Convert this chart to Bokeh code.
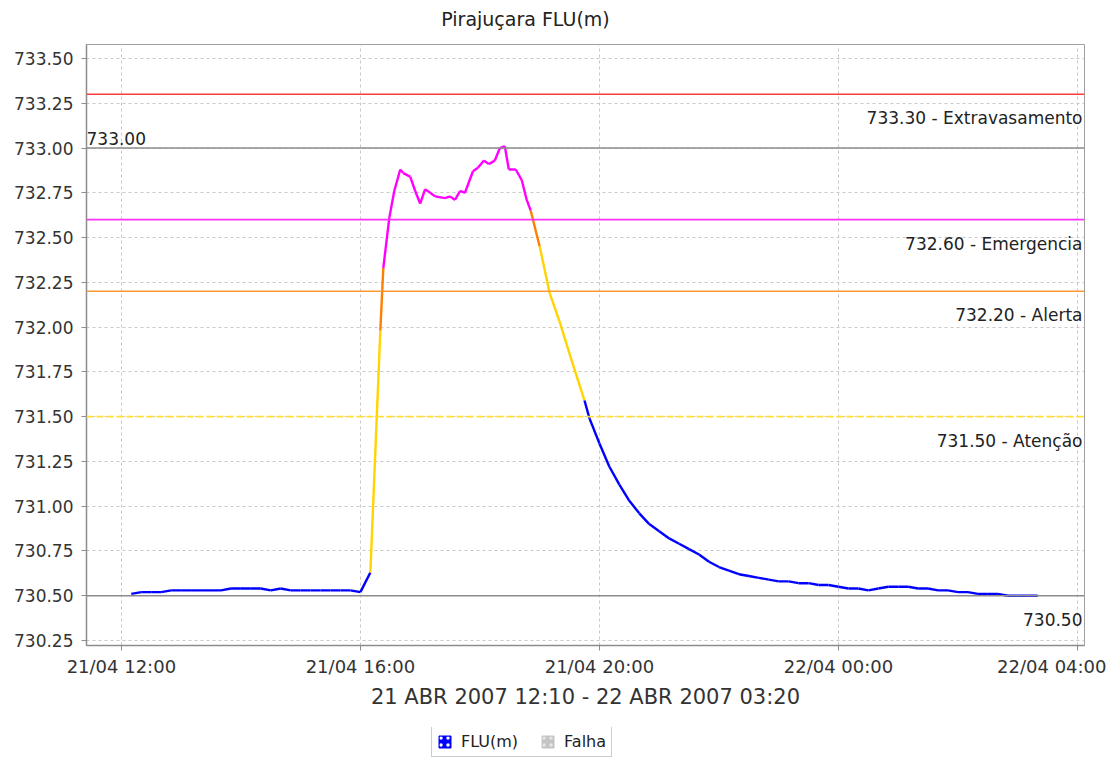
from datetime import datetime
from bokeh.plotting import figure
from bokeh.layouts import column
from bokeh.models import (Span, Label, Legend, LegendItem, FixedTicker,
                          DatetimeTickFormatter, ColumnDataSource, Range1d,
                          PrintfTickFormatter)
from bokeh.embed import file_html
from bokeh.resources import INLINE

# ---------------- data ----------------
title_text = "Pirajuçara FLU(m)"
x_axis_label = "21 ABR 2007 12:10 - 22 ABR 2007 03:20"

times = [
    "2007-04-21 12:10", "2007-04-21 12:20", "2007-04-21 12:30", "2007-04-21 12:40",
    "2007-04-21 12:50", "2007-04-21 13:00", "2007-04-21 13:10", "2007-04-21 13:20",
    "2007-04-21 13:30", "2007-04-21 13:40", "2007-04-21 13:50", "2007-04-21 14:00",
    "2007-04-21 14:10", "2007-04-21 14:20", "2007-04-21 14:30", "2007-04-21 14:40",
    "2007-04-21 14:50", "2007-04-21 15:00", "2007-04-21 15:10", "2007-04-21 15:20",
    "2007-04-21 15:30", "2007-04-21 15:40", "2007-04-21 15:50", "2007-04-21 16:00",
    "2007-04-21 16:10", "2007-04-21 16:20", "2007-04-21 16:23", "2007-04-21 16:29",
    "2007-04-21 16:34", "2007-04-21 16:40", "2007-04-21 16:43", "2007-04-21 16:50",
    "2007-04-21 16:55", "2007-04-21 17:00", "2007-04-21 17:05", "2007-04-21 17:10",
    "2007-04-21 17:15", "2007-04-21 17:25", "2007-04-21 17:30", "2007-04-21 17:35",
    "2007-04-21 17:40", "2007-04-21 17:45", "2007-04-21 17:53", "2007-04-21 17:58",
    "2007-04-21 18:04", "2007-04-21 18:09", "2007-04-21 18:15", "2007-04-21 18:20",
    "2007-04-21 18:25", "2007-04-21 18:29", "2007-04-21 18:36", "2007-04-21 18:42",
    "2007-04-21 18:47", "2007-04-21 18:51", "2007-04-21 19:00", "2007-04-21 19:10",
    "2007-04-21 19:20", "2007-04-21 19:30", "2007-04-21 19:45", "2007-04-21 19:50",
    "2007-04-21 20:00", "2007-04-21 20:10", "2007-04-21 20:20", "2007-04-21 20:30",
    "2007-04-21 20:40", "2007-04-21 20:50", "2007-04-21 21:00", "2007-04-21 21:10",
    "2007-04-21 21:20", "2007-04-21 21:30", "2007-04-21 21:40", "2007-04-21 21:50",
    "2007-04-21 22:00", "2007-04-21 22:10", "2007-04-21 22:20", "2007-04-21 22:30",
    "2007-04-21 22:40", "2007-04-21 22:50", "2007-04-21 23:00", "2007-04-21 23:10",
    "2007-04-21 23:20", "2007-04-21 23:30", "2007-04-21 23:40", "2007-04-21 23:50",
    "2007-04-22 00:00", "2007-04-22 00:10", "2007-04-22 00:20", "2007-04-22 00:30",
    "2007-04-22 00:40", "2007-04-22 00:50", "2007-04-22 01:00", "2007-04-22 01:10",
    "2007-04-22 01:20", "2007-04-22 01:30", "2007-04-22 01:40", "2007-04-22 01:50",
    "2007-04-22 02:00", "2007-04-22 02:10", "2007-04-22 02:20", "2007-04-22 02:30",
    "2007-04-22 02:40", "2007-04-22 02:50", "2007-04-22 03:00", "2007-04-22 03:10",
    "2007-04-22 03:20",
]
levels = [
    730.51, 730.52, 730.52, 730.52,
    730.53, 730.53, 730.53, 730.53,
    730.53, 730.53, 730.54, 730.54,
    730.54, 730.54, 730.53, 730.54,
    730.53, 730.53, 730.53, 730.53,
    730.53, 730.53, 730.53, 730.52,
    730.63, 731.98, 732.33, 732.61,
    732.76, 732.88, 732.86, 732.84,
    732.76, 732.69, 732.77, 732.75,
    732.73, 732.72, 732.73, 732.71,
    732.76, 732.75, 732.87, 732.89,
    732.93, 732.91, 732.93, 733.00,
    733.01, 732.88, 732.88, 732.82,
    732.71, 732.65, 732.45, 732.19,
    732.03, 731.85, 731.59, 731.49,
    731.35, 731.22, 731.12, 731.03,
    730.96, 730.90, 730.86, 730.82,
    730.79, 730.76, 730.73, 730.69,
    730.66, 730.64, 730.62, 730.61,
    730.60, 730.59, 730.58, 730.58,
    730.57, 730.57, 730.56, 730.56,
    730.55, 730.54, 730.54, 730.53,
    730.54, 730.55, 730.55, 730.55,
    730.54, 730.54, 730.53, 730.53,
    730.52, 730.52, 730.51, 730.51,
    730.51, 730.50, 730.50, 730.50,
    730.50,
]

thr_values = [733.30, 733.00, 732.60, 732.20, 731.50, 730.50]
thr_labels = ["733.30 - Extravasamento", "733.00", "732.60 - Emergencia",
              "732.20 - Alerta", "731.50 - Atenção", "730.50"]

x_ticks = ["2007-04-21 12:00", "2007-04-21 16:00", "2007-04-21 20:00",
           "2007-04-22 00:00", "2007-04-22 04:00"]
y_ticks = [730.25, 730.50, 730.75, 731.00, 731.25, 731.50, 731.75, 732.00,
           732.25, 732.50, 732.75, 733.00, 733.25, 733.50]

legend_labels = ["FLU(m)", "Falha"]
# no failure ("Falha") readings in this period: a single empty (NaN) entry
falha_times = [float("nan")]
falha_levels = [float("nan")]

# ---------------- styles ----------------
FONT = "DejaVu Sans"
thr_colors = ["#ff3b3b", "#8c8c8c", "#ff33ff", "#ff9933", "#ffe033", "#8c8c8c"]
thr_dash = ["solid", "solid", "solid", "solid", "7 3", "solid"]
band_limits = [732.60, 732.20, 731.50]
band_colors = ["#ff00ff", "#ff7f00", "#ffd400"]
base_color = "#0000ff"


def level_color(v):
    for lim, c in zip(band_limits, band_colors):
        if v >= lim:
            return c
    return base_color


def to_dt(s):
    return datetime.strptime(s, "%Y-%m-%d %H:%M")


t = [to_dt(s) for s in times]
seg = ColumnDataSource(dict(
    x0=t[:-1], y0=levels[:-1], x1=t[1:], y1=levels[1:],
    color=[level_color(v) for v in levels[1:]],
))

W = 1106


def strip(height):
    f = figure(width=W, height=height, output_backend="svg",
               toolbar_location=None, min_border=0,
               x_axis_location=None, y_axis_location=None,
               x_range=Range1d(0, 1), y_range=Range1d(0, 1))
    f.grid.visible = False
    f.outline_line_color = None
    return f


# ---------------- title strip (frame aligned with the chart's frame) ----------------
tf = strip(30)
tf.add_layout(Label(x=439, y=12, x_units="screen", y_units="screen",
                    text=title_text, text_align="center", text_baseline="middle",
                    text_font=FONT, text_font_size="19px", text_color="#222222"))

# ---------------- main chart ----------------
x_range = Range1d(datetime(2007, 4, 21, 11, 25), datetime(2007, 4, 22, 4, 7))
y_range = Range1d(730.222, 733.578)

p = figure(frame_width=998, frame_height=601, x_axis_type="datetime",
           x_range=x_range, y_range=y_range,
           output_backend="svg", toolbar_location=None,
           min_border_left=86, min_border_right=22,
           min_border_top=14, min_border_bottom=82,
           background_fill_color="white", border_fill_color="white")

p.outline_line_color = "#a0a0a0"
p.outline_line_width = 1

for g in (p.xgrid, p.ygrid):
    g.grid_line_color = "#c8c8c8"
    g.grid_line_dash = "3 3"
    g.grid_line_width = 1

ms = [(to_dt(s) - datetime(1970, 1, 1)).total_seconds() * 1000 for s in x_ticks]
p.xaxis.ticker = FixedTicker(ticks=ms)
fmt = "%d/%m %H:%M"
p.xaxis.formatter = DatetimeTickFormatter(
    milliseconds=fmt, seconds=fmt, minsec=fmt, minutes=fmt, hourmin=fmt,
    hours=fmt, days=fmt, months=fmt, years=fmt)
p.yaxis.ticker = FixedTicker(ticks=y_ticks)
p.yaxis.formatter = PrintfTickFormatter(format="%.2f")
p.xaxis.axis_label = x_axis_label

for ax in (p.xaxis[0], p.yaxis[0]):
    ax.axis_line_color = "#8c8c8c"
    ax.axis_line_width = 1.5
    ax.major_tick_line_color = "#8c8c8c"
    ax.major_tick_out = 5
    ax.major_tick_in = 0
    ax.minor_tick_out = 0
    ax.minor_tick_in = 0
    ax.major_label_text_font = FONT
    ax.major_label_text_font_size = "17px"
    ax.major_label_text_color = "#333333"
p.xaxis.major_label_text_font_size = "18px"
p.xaxis.major_label_standoff = 5
p.yaxis.major_label_standoff = 8
p.xaxis.axis_label_text_font = FONT
p.xaxis.axis_label_text_font_size = "21px"
p.xaxis.axis_label_text_font_style = "normal"
p.xaxis.axis_label_text_color = "#333333"
p.xaxis.axis_label_standoff = 5

for v, c, d in zip(thr_values, thr_colors, thr_dash):
    p.add_layout(Span(location=v, dimension="width", line_color=c,
                      line_width=1.6, line_dash=d))

for v, lab in zip(thr_values, thr_labels):
    if lab == "733.00":
        p.add_layout(Label(x=x_range.start, y=v, text=lab, text_align="left",
                           text_baseline="alphabetic", x_offset=0, y_offset=10,
                           text_font=FONT, text_font_size="17px",
                           text_color="#222222"))
    else:
        p.add_layout(Label(x=x_range.end, y=v, text=lab, text_align="right",
                           text_baseline="alphabetic", x_offset=-2, y_offset=-24,
                           text_font=FONT, text_font_size="17px",
                           text_color="#222222"))

p.segment(x0="x0", y0="y0", x1="x1", y1="y1", line_color="color",
          line_width=2.4, source=seg)

# ---------------- legend strip (frame aligned with the chart's frame) ----------------
lf = strip(34)
r_flu = lf.quad(left=falha_times, right=falha_times, bottom=falha_levels,
                top=falha_levels, fill_color="#0000ff", line_color="#0000ff",
                hatch_pattern="dot", hatch_color="white",
                hatch_scale=7, hatch_weight=2.2)
r_falha = lf.quad(left=falha_times, right=falha_times, bottom=falha_levels,
                  top=falha_levels, fill_color="#c4c4c4", line_color="#c4c4c4",
                  hatch_pattern="dot", hatch_color="#e6e6e6",
                  hatch_scale=7, hatch_weight=2.2)
legend = Legend(items=[LegendItem(label=legend_labels[0], renderers=[r_flu]),
                       LegendItem(label=legend_labels[1], renderers=[r_falha])],
                orientation="horizontal", location=(345, 4),
                label_text_font=FONT, label_text_font_size="16px",
                label_text_color="#222222", glyph_width=15, glyph_height=15,
                label_standoff=9, spacing=22, padding=5, margin=0,
                border_line_color="#999999", border_line_width=1,
                background_fill_color="white")
lf.add_layout(legend, "center")

open("out.html", "w").write(file_html(column(tf, p, lf), INLINE))
